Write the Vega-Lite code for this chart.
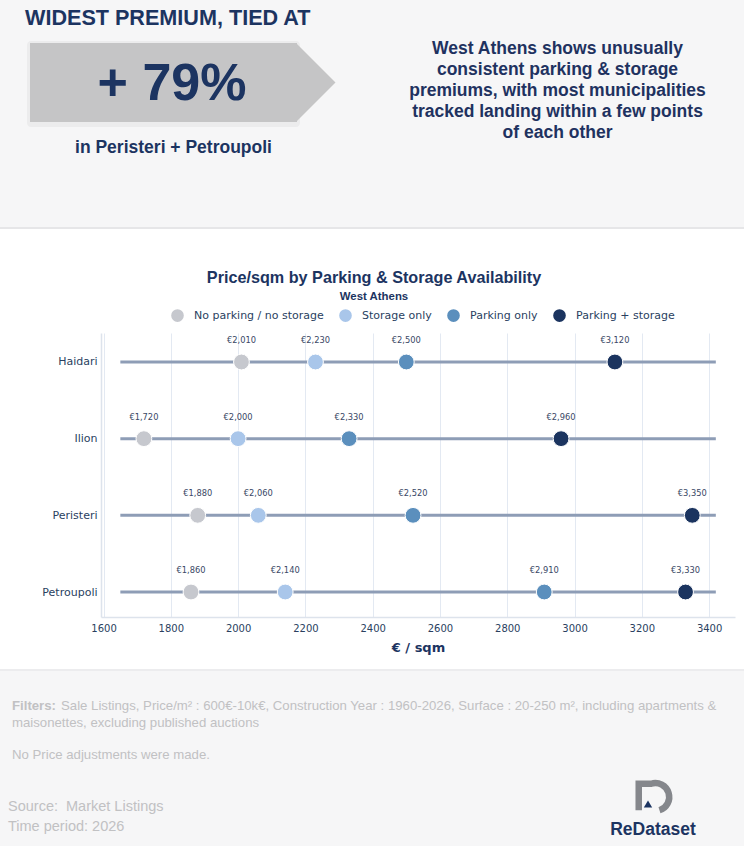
{
  "$schema": "https://vega.github.io/schema/vega-lite/v6.json",
  "autosize": "none",
  "width": 634,
  "height": 284,
  "padding": {"left": 101, "top": 333, "right": 9, "bottom": 229},
  "background": "#ffffff",
  "config": {"view": {"stroke": null}},
  "datasets": {
    "prices": [
      {"area": "Haidari", "type": "No parking / no storage", "price": 2010},
      {"area": "Haidari", "type": "Storage only", "price": 2230},
      {"area": "Haidari", "type": "Parking only", "price": 2500},
      {"area": "Haidari", "type": "Parking + storage", "price": 3120},
      {"area": "Ilion", "type": "No parking / no storage", "price": 1720},
      {"area": "Ilion", "type": "Storage only", "price": 2000},
      {"area": "Ilion", "type": "Parking only", "price": 2330},
      {"area": "Ilion", "type": "Parking + storage", "price": 2960},
      {"area": "Peristeri", "type": "No parking / no storage", "price": 1880},
      {"area": "Peristeri", "type": "Storage only", "price": 2060},
      {"area": "Peristeri", "type": "Parking only", "price": 2520},
      {"area": "Peristeri", "type": "Parking + storage", "price": 3350},
      {"area": "Petroupoli", "type": "No parking / no storage", "price": 1860},
      {"area": "Petroupoli", "type": "Storage only", "price": 2140},
      {"area": "Petroupoli", "type": "Parking only", "price": 2910},
      {"area": "Petroupoli", "type": "Parking + storage", "price": 3330}
    ],
    "tracks": [
      {"area": "Haidari", "start": 1650, "end": 3420},
      {"area": "Ilion", "start": 1650, "end": 3420},
      {"area": "Peristeri", "start": 1650, "end": 3420},
      {"area": "Petroupoli", "start": 1650, "end": 3420}
    ]
  },
  "layer": [
    {
      "data": {"values": [{}]},
      "mark": {"type": "rect", "fill": "#f6f6f7"},
      "encoding": {"x": {"value": -101}, "x2": {"value": 643}, "y": {"value": -333}, "y2": {"value": -105}}
    },
    {
      "data": {"values": [{}]},
      "mark": {"type": "rect", "fill": "#f6f6f7"},
      "encoding": {"x": {"value": -101}, "x2": {"value": 643}, "y": {"value": 337}, "y2": {"value": 513}}
    },
    {
      "data": {"values": [{}]},
      "mark": {"type": "rect", "fill": "#e6e6e8"},
      "encoding": {"x": {"value": -101}, "x2": {"value": 643}, "y": {"value": -106}, "y2": {"value": -104}}
    },
    {
      "data": {"values": [{}]},
      "mark": {"type": "rect", "fill": "#ececee"},
      "encoding": {"x": {"value": -101}, "x2": {"value": 643}, "y": {"value": 336}, "y2": {"value": 338}}
    },
    {
      "data": {"values": [{}]},
      "mark": {"type": "rect", "fill": "#ececed", "cornerRadius": 4},
      "encoding": {"x": {"value": -74}, "x2": {"value": 199}, "y": {"value": -292}, "y2": {"value": -206}}
    },
    {
      "data": {"values": [{}]},
      "mark": {"type": "rect", "fill": "#c5c5c6"},
      "encoding": {"x": {"value": -71}, "x2": {"value": 196}, "y": {"value": -290}, "y2": {"value": -211}}
    },
    {
      "data": {"values": [{}]},
      "mark": {"type": "point", "filled": true, "opacity": 1, "fill": "#c5c5c6", "strokeWidth": 0, "shape": "M -1 -1 L 0 0 L -1 1 Z", "size": 6241},
      "encoding": {"x": {"value": 234.5}, "y": {"value": -250.5}}
    },
    {
      "data": {"values": [{}]},
      "mark": {"type": "text", "text": "WIDEST PREMIUM, TIED AT", "font": "Liberation Sans", "fontWeight": "bold", "fontSize": 21.6, "fill": "#1c3461", "align": "left", "baseline": "alphabetic"},
      "encoding": {"x": {"value": -76}, "y": {"value": -308.5}}
    },
    {
      "data": {"values": [{}]},
      "mark": {"type": "text", "text": "+ 79%", "font": "Liberation Sans", "fontWeight": "bold", "fontSize": 52, "fill": "#1c3461", "align": "center", "baseline": "alphabetic"},
      "encoding": {"x": {"value": 71}, "y": {"value": -233}}
    },
    {
      "data": {"values": [{}]},
      "mark": {"type": "text", "text": "in Peristeri + Petroupoli", "font": "Liberation Sans", "fontWeight": "bold", "fontSize": 17.5, "fill": "#1c3461", "align": "center", "baseline": "alphabetic"},
      "encoding": {"x": {"value": 72.5}, "y": {"value": -180}}
    },
    {
      "data": {"values": [{}]},
      "mark": {"type": "text", "text": ["West Athens shows unusually", "consistent parking & storage", "premiums, with most municipalities", "tracked landing within a few points", "of each other"], "lineHeight": 21.2, "font": "Liberation Sans", "fontWeight": "bold", "fontSize": 17.5, "fill": "#1f3260", "align": "center", "baseline": "alphabetic"},
      "encoding": {"x": {"value": 456.5}, "y": {"value": -279.5}}
    },
    {
      "data": {"values": [{}]},
      "mark": {"type": "text", "text": "Price/sqm by Parking & Storage Availability", "font": "Liberation Sans", "fontWeight": "bold", "fontSize": 16.2, "fill": "#1c3461", "align": "center", "baseline": "middle"},
      "encoding": {"x": {"value": 273}, "y": {"value": -55}}
    },
    {
      "data": {"values": [{}]},
      "mark": {"type": "text", "text": "West Athens", "font": "Liberation Sans", "fontWeight": "bold", "fontSize": 11.4, "fill": "#1c3461", "align": "center", "baseline": "middle"},
      "encoding": {"x": {"value": 273}, "y": {"value": -36}}
    },
    {
      "data": {"name": "tracks"},
      "mark": {"type": "rule", "color": "#8e9db6", "strokeWidth": 3},
      "encoding": {
        "x": {"field": "start", "type": "quantitative"},
        "x2": {"field": "end"},
        "y": {"field": "area", "type": "nominal", "sort": ["Haidari", "Ilion", "Peristeri", "Petroupoli"]}
      }
    },
    {
      "data": {"name": "prices"},
      "mark": {"type": "point", "filled": true, "opacity": 1, "size": 250, "stroke": "#ffffff", "strokeWidth": 1},
      "encoding": {
        "x": {
          "field": "price", "type": "quantitative",
          "scale": {"domain": [1592.5, 3477], "nice": false, "zero": false},
          "axis": {
            "title": "€ / sqm", "values": [1600, 1800, 2000, 2200, 2400, 2600, 2800, 3000, 3200, 3400], "format": "d",
            "grid": true, "gridColor": "#e3e9f2", "gridWidth": 1, "ticks": false,
            "domainColor": "#dde3ec", "domainWidth": 1.5,
            "labelFont": "DejaVu Sans", "labelFontSize": 10, "labelColor": "#2a3f5f", "labelPadding": 6,
            "titleFont": "DejaVu Sans", "titleFontWeight": "bold", "titleFontSize": 13, "titleColor": "#1c3461", "titlePadding": 8
          }
        },
        "y": {
          "field": "area", "type": "nominal",
          "sort": ["Haidari", "Ilion", "Peristeri", "Petroupoli"],
          "scale": {"type": "point", "padding": 0.352, "align": 0.537},
          "axis": {
            "title": null, "ticks": false, "grid": false, "domain": true, "domainColor": "#dde3ec", "domainWidth": 1.5,
            "labelFont": "DejaVu Sans", "labelFontSize": 11, "labelColor": "#2a3f5f", "labelPadding": 4
          }
        },
        "color": {
          "field": "type", "type": "nominal",
          "scale": {
            "domain": ["No parking / no storage", "Storage only", "Parking only", "Parking + storage"],
            "range": ["#c6c8ce", "#a9c6ea", "#5b8fbd", "#1b345f"]
          },
          "legend": {
            "title": null, "orient": "none", "legendX": 70, "legendY": -24, "direction": "horizontal", "columns": 4,
            "symbolType": "circle", "symbolSize": 160, "symbolStrokeWidth": 0, "symbolOpacity": 1,
            "labelFont": "DejaVu Sans", "labelFontSize": 11, "labelColor": "#2a3f5f",
            "labelOffset": 10, "columnPadding": 15, "labelLimit": 300
          }
        }
      }
    },
    {
      "data": {"name": "prices"},
      "transform": [{"calculate": "'€' + format(datum.price, ',')", "as": "label"}],
      "mark": {"type": "text", "font": "DejaVu Sans", "fontSize": 8.3, "fill": "#3a4866", "dy": -21, "baseline": "middle", "align": "center"},
      "encoding": {
        "x": {"field": "price", "type": "quantitative"},
        "y": {"field": "area", "type": "nominal", "sort": ["Haidari", "Ilion", "Peristeri", "Petroupoli"]},
        "text": {"field": "label"}
      }
    },
    {
      "data": {"values": [{}]},
      "mark": {"type": "text", "text": "Filters:", "font": "Liberation Sans", "fontWeight": "bold", "fontSize": 13.2, "fill": "#c1c1c3", "align": "left", "baseline": "alphabetic"},
      "encoding": {"x": {"value": -89}, "y": {"value": 376.5}}
    },
    {
      "data": {"values": [{}]},
      "mark": {"type": "text", "text": "Sale Listings, Price/m² : 600€-10k€, Construction Year : 1960-2026, Surface : 20-250 m², including apartments &", "font": "Liberation Sans", "fontSize": 13.2, "fill": "#c1c1c3", "align": "left", "baseline": "alphabetic"},
      "encoding": {"x": {"value": -40}, "y": {"value": 376.5}}
    },
    {
      "data": {"values": [{}]},
      "mark": {"type": "text", "text": "maisonettes, excluding published auctions", "font": "Liberation Sans", "fontSize": 13.2, "fill": "#c1c1c3", "align": "left", "baseline": "alphabetic"},
      "encoding": {"x": {"value": -89}, "y": {"value": 393.5}}
    },
    {
      "data": {"values": [{}]},
      "mark": {"type": "text", "text": "No Price adjustments were made.", "font": "Liberation Sans", "fontSize": 13.2, "fill": "#c1c1c3", "align": "left", "baseline": "alphabetic"},
      "encoding": {"x": {"value": -89}, "y": {"value": 425.5}}
    },
    {
      "data": {"values": [{}]},
      "mark": {"type": "text", "text": ["Source:\u00a0 Market Listings", "Time period: 2026"], "lineHeight": 20, "font": "Liberation Sans", "fontSize": 14.5, "fill": "#c1c1c3", "align": "left", "baseline": "alphabetic"},
      "encoding": {"x": {"value": -93}, "y": {"value": 478}}
    },
    {
      "data": {"values": [{}]},
      "mark": {"type": "point", "filled": false, "opacity": 1, "stroke": "#85878c", "strokeWidth": 6.5, "strokeCap": "butt", "shape": "M -0.8 0.8 L -0.8 -0.8 L -0.05 -0.8 A 0.8 0.8 0 0 1 0.45 0.8", "size": 1100},
      "encoding": {"x": {"value": 551}, "y": {"value": 464}}
    },
    {
      "data": {"values": [{}]},
      "mark": {"type": "point", "filled": true, "opacity": 1, "fill": "#1c3461", "strokeWidth": 0, "shape": "triangle-up", "size": 70},
      "encoding": {"x": {"value": 547}, "y": {"value": 471}}
    },
    {
      "data": {"values": [{}]},
      "mark": {"type": "text", "text": "ReDataset", "font": "Liberation Sans", "fontWeight": "bold", "fontSize": 17.5, "fill": "#1c3461", "align": "center", "baseline": "alphabetic"},
      "encoding": {"x": {"value": 552}, "y": {"value": 502}}
    }
  ]
}
